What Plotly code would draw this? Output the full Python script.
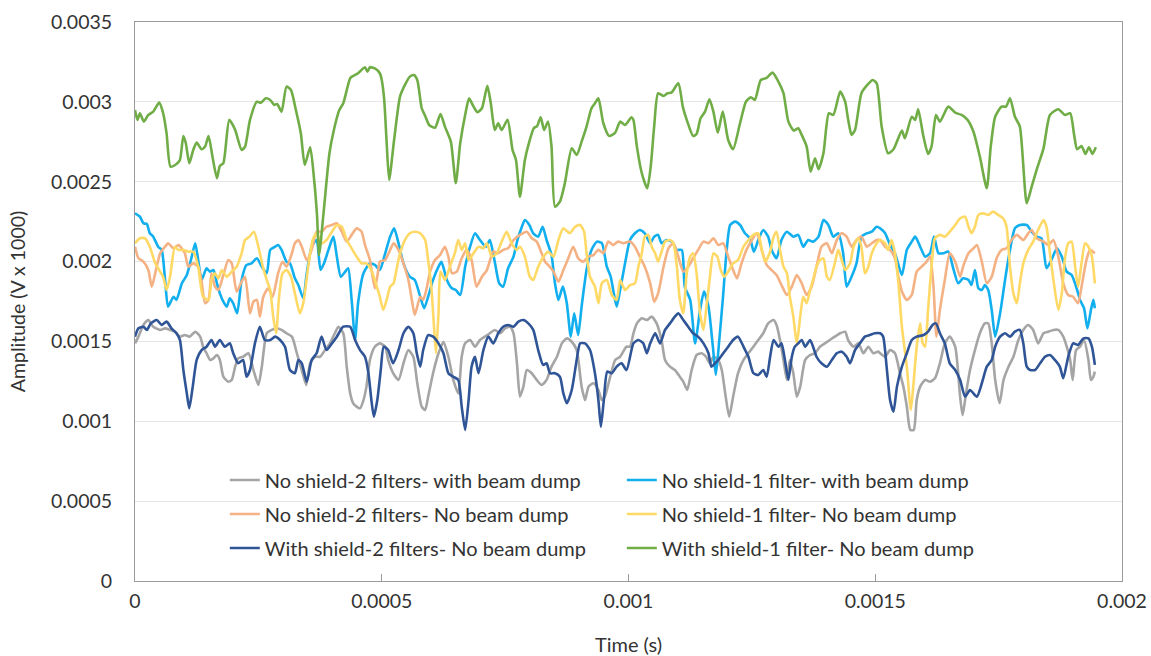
import plotly.graph_objects as go

# ---- data (time in microseconds, amplitude in units of 1e-3) ----
names = [
    "No shield-2 filters- with beam dump",
    "No shield-1 filter- with beam dump",
    "No shield-2 filters- No beam dump",
    "No shield-1 filter- No beam dump",
    "With shield-2 filters- No beam dump",
    "With shield-1 filter- No beam dump",
]
colors = ["#A5A5A5", "#12AFEF", "#F4B183", "#FFD966", "#2F5597", "#70AD47"]

gray_t = [0,7,17,27,37,51,61,71,81,91,
101,111,122,132,138,145,152,159,166,172,
179,189,196,203,209,219,230,240,250,257,
267,277,287,297,307,318,328,338,347,355,
365,375,385,395,405,412,422,429,436,442,
449,456,463,469,476,486,496,507,513,523,
534,544,554,564,572,581,588,594,604,615,
625,635,645,655,662,669,679,689,699,709,
719,729,740,750,760,767,774,780,787,794,
804,814,824,834,844,855,865,875,885,895,
905,912,919,929,939,946,952,963,973,983,
996,1003,1010,1017,1027,1037,1047,1057,1067,1074,
1084,1094,1104,1111,1119,1128,1138,1148,1157,1165,
1172,1182,1189,1196,1204,1212,1222,1233,1243,1253,
1263,1273,1283,1294,1300,1307,1314,1321,1327,1334,
1341,1348,1358,1368,1378,1388,1398,1408,1418,1429,
1439,1445,1456,1466,1476,1486,1496,1506,1510,1520,
1530,1540,1550,1557,1564,1571,1578,1584,1591,1601,
1611,1621,1631,1641,1651,1662,1672,1677,1684,1692,
1702,1712,1722,1729,1736,1743,1752,1760,1770,1780,
1790,1800,1810,1820,1830,1841,1851,1861,1871,1881,
1888,1895,1900,1907,1915,1923,1932,1937,1942,1945]
gray_v = [1.488,1.530,1.603,1.634,1.592,1.572,1.582,1.572,1.561,1.530,
1.540,1.530,1.561,1.530,1.467,1.426,1.384,1.394,1.415,1.384,
1.279,1.248,1.259,1.342,1.394,1.404,1.426,1.321,1.227,1.342,
1.551,1.572,1.582,1.572,1.551,1.530,1.426,1.321,1.227,1.363,
1.404,1.404,1.446,1.488,1.551,1.592,1.551,1.342,1.175,1.113,
1.092,1.081,1.133,1.217,1.384,1.467,1.488,1.467,1.384,1.301,
1.259,1.363,1.446,1.404,1.238,1.092,1.071,1.154,1.301,1.426,
1.498,1.404,1.259,1.175,1.404,1.488,1.509,1.467,1.509,1.530,
1.551,1.572,1.551,1.582,1.592,1.551,1.363,1.154,1.217,1.321,
1.301,1.259,1.227,1.259,1.342,1.404,1.488,1.519,1.498,1.446,
1.217,1.133,1.217,1.238,1.196,1.133,1.154,1.279,1.384,1.404,
1.467,1.467,1.551,1.613,1.645,1.634,1.655,1.613,1.509,1.384,
1.342,1.321,1.279,1.248,1.196,1.321,1.415,1.426,1.404,1.363,
1.404,1.384,1.321,1.175,1.029,1.154,1.301,1.384,1.426,1.467,
1.509,1.551,1.613,1.634,1.603,1.509,1.384,1.259,1.384,1.301,
1.154,1.217,1.384,1.415,1.426,1.467,1.488,1.509,1.530,1.551,
1.561,1.509,1.467,1.488,1.426,1.467,1.426,1.436,1.426,1.404,
1.446,1.426,1.301,1.217,1.092,0.946,0.946,1.133,1.217,1.259,
1.248,1.269,1.363,1.488,1.530,1.467,1.154,1.039,1.175,1.321,
1.446,1.551,1.613,1.613,1.488,1.259,1.113,1.259,1.342,1.404,
1.509,1.572,1.603,1.572,1.488,1.551,1.561,1.572,1.572,1.530,
1.467,1.384,1.259,1.446,1.467,1.509,1.384,1.259,1.279,1.311]

lblue_t = [0,10,17,24,30,37,47,54,61,67,
78,84,95,105,115,122,128,135,145,152,
159,166,172,179,186,192,199,207,216,226,
236,247,257,267,274,284,290,297,307,314,
324,331,341,348,358,368,376,383,392,402,
409,417,426,432,439,446,452,463,476,486,
496,507,517,525,534,544,557,567,578,586,
594,604,615,621,632,642,650,659,669,679,
689,699,711,719,729,738,746,756,767,775,
784,790,799,807,817,826,834,844,851,858,
867,875,883,890,898,905,915,925,936,946,
956,964,969,976,983,993,1003,1013,1023,1033,
1044,1052,1060,1067,1077,1088,1098,1108,1114,1125,
1135,1145,1153,1162,1171,1177,1184,1191,1199,1206,
1216,1226,1236,1246,1254,1263,1273,1283,1290,1300,
1310,1321,1334,1344,1354,1364,1374,1385,1395,1405,
1415,1425,1435,1442,1452,1462,1472,1483,1493,1503,
1510,1520,1530,1540,1554,1564,1574,1581,1591,1601,
1611,1619,1628,1638,1648,1658,1668,1678,1689,1695,
1702,1709,1716,1722,1729,1736,1743,1753,1763,1773,
1783,1793,1807,1817,1827,1837,1847,1857,1868,1878,
1888,1898,1908,1915,1923,1930,1937,1942,1945]
lblue_v = [2.302,2.281,2.240,2.235,2.177,2.156,2.093,2.073,1.885,1.718,
1.780,1.760,1.864,1.916,2.031,2.115,2.010,1.885,1.958,1.937,
1.947,1.864,1.801,1.749,1.718,1.770,1.739,1.676,1.885,1.979,
1.989,2.021,1.968,1.927,2.073,2.093,2.104,2.073,1.999,1.989,
1.895,1.853,1.770,1.927,2.093,2.135,1.947,1.989,2.073,2.156,
2.031,1.905,1.937,1.958,1.760,1.509,1.739,1.927,1.989,1.979,
1.947,2.052,2.156,2.208,2.115,1.989,1.905,1.885,1.780,1.708,
1.780,1.885,1.968,1.999,1.885,1.833,1.822,1.791,1.968,2.093,
2.177,2.135,2.093,2.135,1.999,1.864,1.843,1.958,2.031,2.135,
2.218,2.260,2.229,2.177,2.156,2.218,2.135,2.041,1.864,1.760,
1.843,1.739,1.530,1.676,1.540,1.718,1.947,2.073,2.125,2.115,
1.968,1.905,1.822,1.718,1.822,1.989,2.135,2.177,2.198,2.177,
2.115,2.156,2.167,2.115,2.135,2.125,2.073,2.073,1.843,1.760,
1.488,1.697,1.812,1.718,1.467,1.290,1.509,1.760,2.073,2.229,
2.250,2.229,2.177,2.146,2.062,2.135,2.198,2.156,2.073,2.021,
2.135,2.187,2.156,2.167,2.093,2.135,2.125,2.156,2.260,2.229,
2.156,2.177,2.052,1.843,1.905,1.989,2.156,2.177,2.187,2.218,
2.208,2.177,2.104,2.052,1.916,2.073,2.125,2.156,2.093,2.031,
2.052,2.156,2.052,2.052,2.062,1.958,1.864,1.895,1.885,1.853,
1.947,1.833,1.822,1.853,1.822,1.697,1.530,1.676,1.885,2.073,
2.208,2.229,2.229,2.187,2.156,2.146,1.958,2.010,2.083,2.031,
1.937,1.916,1.833,1.760,1.708,1.582,1.697,1.760,1.708]

orange_t = [0,7,17,27,34,41,51,61,67,78,
88,101,108,118,128,135,142,149,155,162,
169,179,189,196,206,216,223,233,240,247,
253,260,270,279,290,299,307,318,324,331,
338,348,358,368,378,388,399,409,419,429,
439,449,459,466,476,486,493,496,507,517,
524,534,544,554,561,567,578,584,591,598,
608,618,628,635,642,652,662,672,682,692,
703,713,726,736,746,756,767,780,794,804,
814,824,831,837,848,858,868,878,888,898,
908,919,929,939,949,959,969,979,989,1003,
1013,1023,1033,1044,1052,1060,1071,1081,1091,1101,
1111,1121,1131,1141,1152,1162,1172,1182,1192,1202,
1212,1220,1229,1239,1250,1260,1270,1280,1290,1300,
1310,1321,1331,1341,1351,1361,1371,1381,1391,1402,
1412,1422,1432,1442,1452,1462,1472,1483,1493,1503,
1510,1520,1530,1540,1547,1554,1564,1574,1584,1594,
1604,1611,1618,1624,1631,1641,1651,1662,1672,1678,
1689,1699,1706,1716,1726,1736,1746,1756,1766,1776,
1787,1800,1810,1817,1827,1841,1851,1861,1871,1881,
1891,1901,1911,1918,1928,1935,1945]
orange_v = [2.093,2.021,1.999,1.947,1.843,1.927,2.052,2.093,2.115,2.083,
2.104,2.052,1.968,1.989,1.968,1.874,1.739,1.760,1.927,1.843,
1.822,1.916,2.010,1.989,1.812,1.874,1.905,1.676,1.749,1.760,
1.655,1.780,1.833,1.780,1.927,1.999,1.968,2.052,2.115,2.135,
2.093,2.010,2.073,2.187,2.187,2.218,2.229,2.240,2.187,2.125,
2.167,2.208,2.187,2.104,2.010,1.833,1.947,1.999,2.010,2.073,
2.115,2.073,1.989,1.885,1.760,1.666,1.780,1.760,1.833,1.937,
2.010,2.041,2.093,2.031,1.927,1.937,2.021,2.073,2.010,1.843,
1.905,1.947,2.062,2.052,2.073,2.083,2.135,2.167,2.187,2.146,
2.125,2.052,1.999,1.979,1.937,1.874,1.947,2.021,2.093,2.021,
1.999,2.031,2.041,2.073,2.052,2.125,2.104,2.125,2.115,2.125,
2.093,2.031,1.968,1.864,1.749,1.801,1.968,2.083,2.115,2.031,
1.937,1.968,2.021,2.073,2.125,2.115,2.146,2.104,2.115,2.031,
1.947,1.895,1.989,2.073,2.135,2.177,2.073,1.979,1.947,1.916,
1.853,1.791,1.843,1.916,1.864,1.791,1.843,1.968,2.093,2.115,
2.052,2.135,2.177,2.156,2.093,2.135,2.156,2.093,2.115,2.135,
2.135,2.093,2.073,2.021,1.905,1.812,1.760,1.791,1.937,1.968,
1.999,2.031,1.843,1.530,1.697,1.885,2.052,1.999,1.905,1.968,
2.052,2.083,2.104,1.999,1.864,1.905,2.021,2.073,2.083,2.135,
2.167,2.135,2.177,2.198,2.146,2.125,2.104,2.135,2.031,1.864,
1.791,1.780,1.739,1.843,2.010,2.073,2.052]

yellow_t = [0,10,20,30,41,51,57,64,71,81,
88,98,108,118,128,138,149,155,162,169,
176,186,196,206,216,223,232,241,250,259,
267,274,280,286,292,299,307,316,324,334,
341,351,360,368,378,388,399,409,419,429,
439,449,459,469,479,490,496,503,510,517,
524,531,537,547,557,567,578,588,594,601,
605,610,615,619,628,638,648,655,662,669,
676,686,696,706,713,723,733,743,753,763,
773,780,790,800,807,817,828,837,848,858,
868,881,892,902,910,915,922,932,939,946,
956,966,976,983,993,1003,1013,1020,1027,1033,
1040,1047,1054,1060,1067,1074,1084,1091,1098,1104,
1111,1118,1125,1131,1138,1145,1152,1158,1165,1172,
1180,1187,1194,1202,1212,1222,1233,1243,1253,1263,
1270,1277,1287,1294,1300,1307,1314,1321,1327,1334,
1341,1348,1354,1361,1368,1374,1381,1388,1395,1402,
1408,1418,1425,1432,1439,1449,1456,1466,1472,1479,
1486,1493,1503,1510,1520,1526,1533,1540,1547,1554,
1564,1572,1577,1584,1591,1596,1601,1607,1614,1621,
1631,1641,1651,1662,1672,1682,1689,1695,1702,1709,
1719,1729,1739,1749,1759,1766,1773,1780,1787,1793,
1800,1810,1820,1830,1841,1847,1854,1861,1871,1878,
1884,1891,1898,1905,1911,1918,1925,1932,1939,1945]
yellow_v = [2.115,2.146,2.146,2.093,1.989,1.937,1.905,1.822,1.905,2.093,
2.073,2.073,2.062,2.062,1.968,1.780,1.760,1.885,1.927,1.895,
1.947,1.905,1.937,1.968,2.052,2.135,2.156,2.187,2.093,1.968,
1.885,1.822,1.655,1.551,1.780,1.927,1.947,1.905,1.801,1.676,
1.739,1.968,2.135,2.177,2.115,2.135,2.187,2.229,2.218,2.135,
2.083,2.031,1.989,1.989,1.947,1.843,1.780,1.697,1.760,1.843,
1.864,1.968,2.052,2.135,2.177,2.187,2.177,2.135,2.010,1.822,
1.634,1.426,1.676,1.937,1.885,1.968,2.052,2.135,2.073,2.115,
2.010,2.052,2.093,2.083,2.115,2.031,2.052,2.125,2.187,2.115,
2.073,2.093,2.031,1.905,1.885,1.968,2.031,2.062,2.031,2.135,
2.208,2.177,2.218,2.229,2.187,2.052,1.905,1.843,1.739,1.864,
1.885,1.791,1.760,1.885,1.822,1.853,1.864,1.968,2.052,2.156,
2.167,2.093,2.052,1.999,2.062,2.125,2.135,2.115,1.968,1.760,
1.676,1.927,2.031,2.052,1.927,1.676,1.572,1.718,1.905,2.052,
2.031,1.947,1.905,1.937,1.989,2.010,2.093,2.135,2.167,2.177,
2.073,1.999,2.062,2.156,2.187,2.073,1.968,1.927,1.780,1.655,
1.488,1.655,1.780,1.739,1.822,1.885,1.968,2.010,2.021,1.905,
1.885,1.989,2.073,2.010,1.947,1.989,2.093,2.146,2.093,1.927,
1.968,2.052,2.115,2.135,2.115,2.073,2.135,2.052,1.864,1.592,
1.342,1.071,1.217,1.467,1.614,1.488,1.467,1.697,1.968,2.146,
2.167,2.156,2.187,2.229,2.271,2.281,2.218,2.177,2.218,2.292,
2.302,2.292,2.313,2.292,2.271,2.218,1.968,1.801,1.739,1.864,
1.989,2.073,2.125,2.198,2.260,2.218,2.052,1.885,1.697,1.801,
2.010,2.115,2.125,1.968,1.843,1.989,2.115,2.093,2.031,1.864]

dblue_t = [0,7,17,24,32,44,54,64,74,84,
91,98,105,110,117,125,135,145,155,162,
172,182,192,199,209,219,226,233,243,253,
263,274,284,294,304,314,324,331,338,348,
358,368,378,388,399,409,422,436,446,456,
466,473,479,484,491,498,504,513,523,534,
544,554,564,571,578,584,594,604,615,625,
635,645,655,662,669,676,682,689,696,706,
716,726,736,746,756,767,777,787,797,807,
817,827,834,841,851,861,868,875,885,895,
902,912,922,932,939,944,950,957,966,976,
986,996,1010,1020,1030,1037,1044,1054,1064,1074,
1084,1094,1101,1111,1121,1131,1141,1152,1162,1168,
1175,1182,1192,1202,1212,1222,1233,1243,1253,1263,
1273,1280,1287,1294,1304,1310,1317,1324,1331,1337,
1344,1351,1358,1368,1374,1381,1391,1402,1412,1422,
1432,1442,1449,1459,1469,1479,1489,1499,1510,1516,
1523,1530,1537,1544,1554,1564,1574,1584,1598,1607,
1616,1623,1631,1641,1651,1662,1672,1682,1692,1706,
1716,1726,1736,1743,1753,1763,1773,1783,1793,1800,
1807,1814,1824,1834,1844,1854,1864,1874,1881,1891,
1901,1911,1922,1932,1939,1945]
dblue_v = [1.530,1.582,1.592,1.572,1.613,1.634,1.603,1.624,1.582,1.551,
1.509,1.321,1.175,1.081,1.217,1.384,1.446,1.467,1.509,1.467,
1.509,1.467,1.488,1.426,1.363,1.384,1.279,1.321,1.488,1.592,
1.509,1.509,1.530,1.509,1.467,1.321,1.301,1.384,1.363,1.248,
1.384,1.426,1.530,1.446,1.488,1.530,1.592,1.592,1.509,1.446,
1.404,1.301,1.133,1.029,1.133,1.321,1.467,1.446,1.363,1.446,
1.551,1.592,1.551,1.426,1.342,1.446,1.540,1.530,1.488,1.426,
1.301,1.279,1.259,1.092,0.946,1.133,1.342,1.404,1.301,1.446,
1.530,1.488,1.551,1.592,1.603,1.592,1.624,1.634,1.613,1.572,
1.446,1.353,1.363,1.301,1.301,1.279,1.175,1.113,1.196,1.384,
1.488,1.488,1.446,1.301,1.133,0.966,1.133,1.311,1.301,1.342,
1.363,1.321,1.488,1.509,1.488,1.426,1.488,1.551,1.488,1.572,
1.613,1.655,1.676,1.634,1.592,1.551,1.530,1.488,1.426,1.342,
1.363,1.384,1.426,1.467,1.509,1.530,1.467,1.404,1.301,1.290,
1.321,1.279,1.404,1.509,1.467,1.488,1.384,1.259,1.404,1.467,
1.488,1.509,1.467,1.509,1.467,1.404,1.363,1.342,1.384,1.426,
1.436,1.404,1.363,1.446,1.488,1.530,1.540,1.551,1.551,1.530,
1.342,1.133,1.060,1.217,1.342,1.426,1.509,1.530,1.540,1.561,
1.603,1.613,1.551,1.488,1.363,1.321,1.259,1.154,1.196,1.154,
1.238,1.342,1.384,1.467,1.530,1.551,1.530,1.561,1.572,1.488,
1.342,1.321,1.321,1.363,1.404,1.415,1.384,1.342,1.269,1.404,
1.488,1.478,1.519,1.519,1.467,1.353]

green_t = [0,5,10,18,27,37,49,57,64,72,
84,91,98,103,110,118,125,135,142,149,
157,166,172,179,191,203,216,223,233,247,
255,265,274,282,288,297,307,316,326,336,
344,355,363,369,373,382,394,403,414,422,
436,442,452,466,471,476,486,496,500,505,
510,515,525,537,547,557,565,572,581,588,
596,608,619,628,640,650,659,669,677,686,
694,703,714,721,729,736,743,755,765,772,
780,790,799,808,815,822,829,837,844,851,
861,871,885,895,905,915,925,932,939,949,
961,973,983,993,1006,1010,1017,1027,1038,1045,
1052,1060,1071,1079,1087,1101,1110,1118,1131,1138,
1146,1155,1164,1172,1181,1191,1202,1212,1226,1238,
1248,1256,1268,1279,1292,1304,1314,1324,1335,1344,
1351,1361,1369,1378,1385,1395,1406,1415,1429,1439,
1445,1452,1459,1472,1484,1495,1503,1513,1526,1537,
1554,1560,1574,1581,1587,1597,1607,1614,1623,1631,
1648,1662,1675,1687,1699,1712,1726,1734,1743,1756,
1765,1773,1783,1793,1807,1817,1827,1841,1854,1871,
1884,1895,1903,1909,1918,1926,1933,1940,1947]
green_v = [2.949,2.887,2.929,2.876,2.918,2.939,2.995,2.929,2.803,2.594,
2.611,2.636,2.786,2.741,2.616,2.699,2.745,2.703,2.720,2.786,
2.657,2.522,2.599,2.616,2.887,2.824,2.699,2.720,2.887,3.001,
2.995,3.022,3.012,2.981,2.987,2.939,3.095,3.074,2.949,2.803,
2.605,2.716,2.511,2.281,2.041,2.302,2.678,2.824,2.949,2.991,
3.148,3.162,3.179,3.217,3.189,3.217,3.210,3.179,3.137,3.012,
2.741,2.511,2.761,3.033,3.106,3.158,3.168,3.137,2.960,2.912,
2.855,2.838,2.924,2.845,2.751,2.490,2.741,2.918,3.022,2.970,
2.935,2.960,3.100,2.991,2.824,2.866,2.824,2.887,2.699,2.636,
2.406,2.636,2.751,2.835,2.849,2.904,2.824,2.876,2.720,2.344,
2.375,2.490,2.709,2.668,2.751,2.845,2.960,2.991,3.022,2.866,
2.786,2.807,2.876,2.855,2.904,2.887,2.720,2.553,2.459,2.594,
2.845,3.054,3.037,3.054,3.058,3.116,2.970,2.887,2.786,2.799,
2.897,2.939,3.016,2.939,2.807,2.939,2.761,2.703,2.866,3.001,
3.029,3.012,3.137,3.148,3.183,3.125,3.054,2.876,2.820,2.835,
2.793,2.720,2.563,2.647,2.578,2.678,2.929,2.918,3.064,3.001,
2.891,2.793,2.824,3.054,3.106,3.137,3.116,2.845,2.678,2.703,
2.820,2.772,2.907,2.887,2.954,2.793,2.674,2.720,2.918,2.876,
2.970,2.932,2.918,2.887,2.813,2.657,2.459,2.720,2.907,2.970,
2.970,3.022,2.907,2.845,2.365,2.469,2.574,2.709,2.918,2.954,
2.918,2.929,2.793,2.703,2.724,2.674,2.716,2.674,2.716]

x_tickvals = [0, 0.0005, 0.001, 0.0015, 0.002]
x_ticktext = ["0", "0.0005", "0.001", "0.0015", "0.002"]
y_tickvals = [0, 0.0005, 0.001, 0.0015, 0.002, 0.0025, 0.003, 0.0035]
y_ticktext = ["0", "0.0005", "0.001", "0.0015", "0.002", "0.0025", "0.003", "0.0035"]

series = [
    (gray_t, gray_v), (lblue_t, lblue_v), (orange_t, orange_v),
    (yellow_t, yellow_v), (dblue_t, dblue_v), (green_t, green_v),
]
legend_ids = ["legend", "legend", "legend2", "legend2", "legend3", "legend3"]

FONT = "Lato"
TXT = "#333333"
AX = "#9A9A9A"

fig = go.Figure()
for (t, v), name, col, lg in zip(series, names, colors, legend_ids):
    fig.add_trace(go.Scatter(
        x=[ti * 1e-6 for ti in t],
        y=[vi * 1e-3 for vi in v],
        mode="lines", name=name,
        line=dict(color=col, width=2.6, shape="spline", smoothing=0.6),
        legend=lg,
    ))

leg_common = dict(
    orientation="h", xanchor="left", yanchor="middle", x=0.091,
    bgcolor="rgba(0,0,0,0)", borderwidth=0,
    font=dict(family=FONT, size=20, color=TXT),
    entrywidth=352, entrywidthmode="pixels",
    itemclick=False, itemdoubleclick=False,
)

fig.update_layout(
    width=1151, height=656,
    margin=dict(l=135, r=29, t=22, b=75, autoexpand=False),
    paper_bgcolor="white", plot_bgcolor="white",
    font=dict(family=FONT, size=20, color=TXT),
    legend=dict(leg_common, y=0.1807),
    legend2=dict(leg_common, y=0.1199),
    legend3=dict(leg_common, y=0.059),
    xaxis=dict(
        range=[0, 0.002], tickvals=x_tickvals, ticktext=x_ticktext,
        showgrid=False, zeroline=False, automargin=False,
        showline=True, linecolor=AX, linewidth=1, mirror=True,
        ticks="inside", ticklen=7, tickcolor=AX,
        ticklabelstandoff=3,
        tickfont=dict(family=FONT, size=19.5, color=TXT),
        title=dict(text="Time (s)", font=dict(family=FONT, size=20, color=TXT), standoff=26),
    ),
    yaxis=dict(
        range=[0, 0.0035], tickvals=y_tickvals, ticktext=y_ticktext,
        showgrid=True, gridcolor="#E6E6E6", gridwidth=1, zeroline=False, automargin=False,
        showline=True, linecolor=AX, linewidth=1, mirror=True,
        ticks="", ticklabelstandoff=18,
        tickfont=dict(family=FONT, size=19.5, color=TXT),
        title=dict(text="Amplitude (V x 1000)", font=dict(family=FONT, size=19.5, color=TXT), standoff=20),
    ),
)

fig.write_html("out.html")
